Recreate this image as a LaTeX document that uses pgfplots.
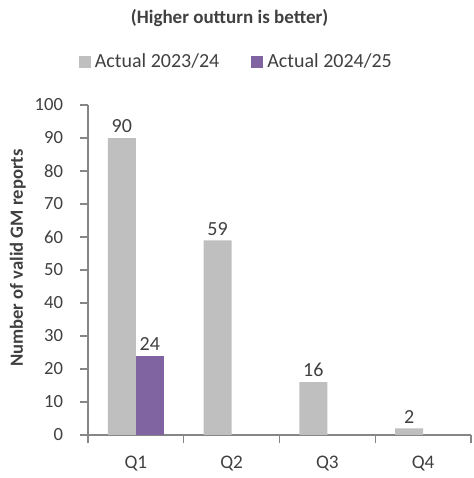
\documentclass[border=0pt]{standalone}
\usepackage{pgfplots}
\pgfplotsset{compat=1.18}
\usepackage{fontspec}
\setmainfont{Carlito}
\definecolor{greybar}{HTML}{BFBFBF}
\definecolor{purplebar}{HTML}{8064A2}
\definecolor{axisgrey}{HTML}{868686}
\definecolor{txt}{HTML}{404040}
\begin{document}
\begin{tikzpicture}
\useasboundingbox (0,0) rectangle (236.5pt,239pt);
\begin{axis}[
  at={(44pt,21.5pt)}, anchor=south west,
  scale only axis, width=191.5pt, height=165pt,
  xmin=-0.5, xmax=3.5, ymin=0, ymax=100,
  ybar=0pt, bar width=14pt,
  axis lines*=left,
  axis line style={axisgrey, line width=0.6pt},
  tick align=outside,
  xtick={0,1,2,3}, xticklabels={Q1,Q2,Q3,Q4},
  minor xtick={-0.5,0.5,1.5,2.5,3.5},
  major x tick style={draw=none},
  minor x tick style={axisgrey, line width=0.6pt},
  minor tick length=4pt,
  ytick={0,10,...,100},
  major y tick style={axisgrey, line width=0.6pt},
  major tick length=4pt,
  /pgf/number format/assume math mode=true,
  tick label style={font=\fontsize{9.3}{11}\selectfont, text=txt},
  xticklabel style={font=\fontsize{9.6}{11}\selectfont, yshift=-3pt},
  yticklabel style={xshift=-5pt},
  ylabel={\textbf{Number of valid GM reports}},
  ylabel style={font=\fontsize{9.3}{11}\selectfont, text=txt, at={(axis description cs:-0.183,0.536)}, anchor=center},
  legend style={at={(axis description cs:0.39,1.13)}, anchor=center, draw=none, fill=none,
    legend columns=2, font=\fontsize{10}{12}\selectfont, text=txt, inner sep=0pt,
    /tikz/every even column/.append style={column sep=14pt},
    nodes={inner xsep=2pt}},
  legend image code/.code={\fill[#1] (0pt,-3pt) rectangle (6pt,3pt);},
  nodes near coords,
  every node near coord/.append style={font=\fontsize{10}{12}\selectfont, text=txt, yshift=-1pt, /pgf/number format/assume math mode=true},
  clip=false,
]
\addplot[fill=greybar, draw=none] coordinates {(0,90) (1,59) (2,16) (3,2)};
\addplot[fill=purplebar, draw=none] coordinates {(0,24)};
\legend{Actual 2023/24, Actual 2024/25}
\end{axis}
\node[font=\fontsize{9.5}{11}\selectfont\bfseries, text=txt, anchor=center] at (114.8pt,230pt) {(Higher outturn is better)};
\end{tikzpicture}
\end{document}
